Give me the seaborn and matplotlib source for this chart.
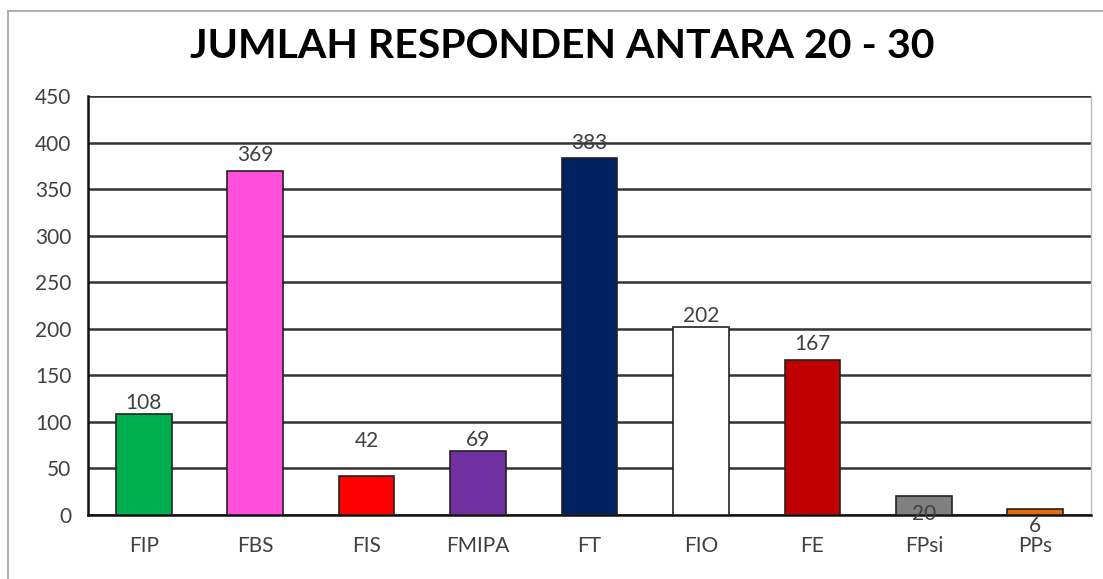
import matplotlib
matplotlib.use("Agg")
import matplotlib.pyplot as plt
import seaborn as sns
import pandas as pd
from matplotlib.lines import Line2D

categories = ["FIP", "FBS", "FIS", "FMIPA", "FT", "FIO", "FE", "FPsi", "PPs"]
values = [108, 369, 42, 69, 383, 202, 167, 20, 6]
bar_colors = ["#00B050", "#FF4FDB", "#FF0000", "#7030A0", "#002060",
              "#FFFFFF", "#C00000", "#808080", "#E36C09"]
# vertical nudge of each value label, in points (as placed in the original)
label_nudge = [8, 12, 25, 8, 11, 8, 11, -13, -12]
yticks = [0, 50, 100, 150, 200, 250, 300, 350, 400, 450]
title = "JUMLAH RESPONDEN ANTARA 20 - 30"

sns.set_theme(style="white")
plt.rcParams["font.family"] = ["Lato", "DejaVu Sans"]

df = pd.DataFrame({"Fakultas": categories, "Jumlah": values})

fig = plt.figure(figsize=(11.03, 5.79), dpi=100)
ax = fig.add_axes([88 / 1103, 64 / 579, (1091 - 88) / 1103, (515 - 96) / 579])

sns.barplot(data=df, x="Fakultas", y="Jumlah", hue="Fakultas",
            palette=dict(zip(categories, bar_colors)), legend=False,
            saturation=1, width=0.5, edgecolor="#222222", linewidth=1.2,
            ax=ax, zorder=3)

ax.set_ylim(0, 450)
ax.set_xlim(-0.5, len(categories) - 0.5)
ax.set_yticks(yticks)
ax.set_yticklabels([str(t) for t in yticks])
ax.yaxis.grid(True, color="#333333", linewidth=1.8, zorder=0)
ax.set_axisbelow(True)
ax.set_xlabel("")
ax.set_ylabel("")
ax.tick_params(axis="both", labelsize=15, colors="#404040", length=0, pad=12)
ax.tick_params(axis="x", pad=15)
for lbl in ax.get_xticklabels() + ax.get_yticklabels():
    lbl.set_color("#404040")

for side in ["left", "bottom"]:
    ax.spines[side].set_color("#111111")
    ax.spines[side].set_linewidth(1.8)
ax.spines["right"].set_color("#bbbbbb")
ax.spines["right"].set_linewidth(1.0)
ax.spines["top"].set_visible(False)

for i, (v, nudge) in enumerate(zip(values, label_nudge)):
    ax.annotate(str(v), xy=(i, v), xytext=(0, nudge), textcoords="offset points",
                ha="center", va="center", fontsize=15, color="#404040", zorder=5)

fig.text(562 / 1103, 1 - 46 / 579, title, ha="center", va="center",
         fontsize=29.5, fontweight="bold", color="#000000")

# outer chart frame (top and left edges visible)
fig.add_artist(Line2D([8 / 1103, 1.0], [1 - 11 / 579, 1 - 11 / 579],
                      transform=fig.transFigure, color="#a0a0a0", linewidth=1.2))
fig.add_artist(Line2D([8 / 1103, 8 / 1103], [0.0, 1 - 11 / 579],
                      transform=fig.transFigure, color="#a0a0a0", linewidth=1.2))

fig.savefig("out.png", dpi=100, facecolor="white")
